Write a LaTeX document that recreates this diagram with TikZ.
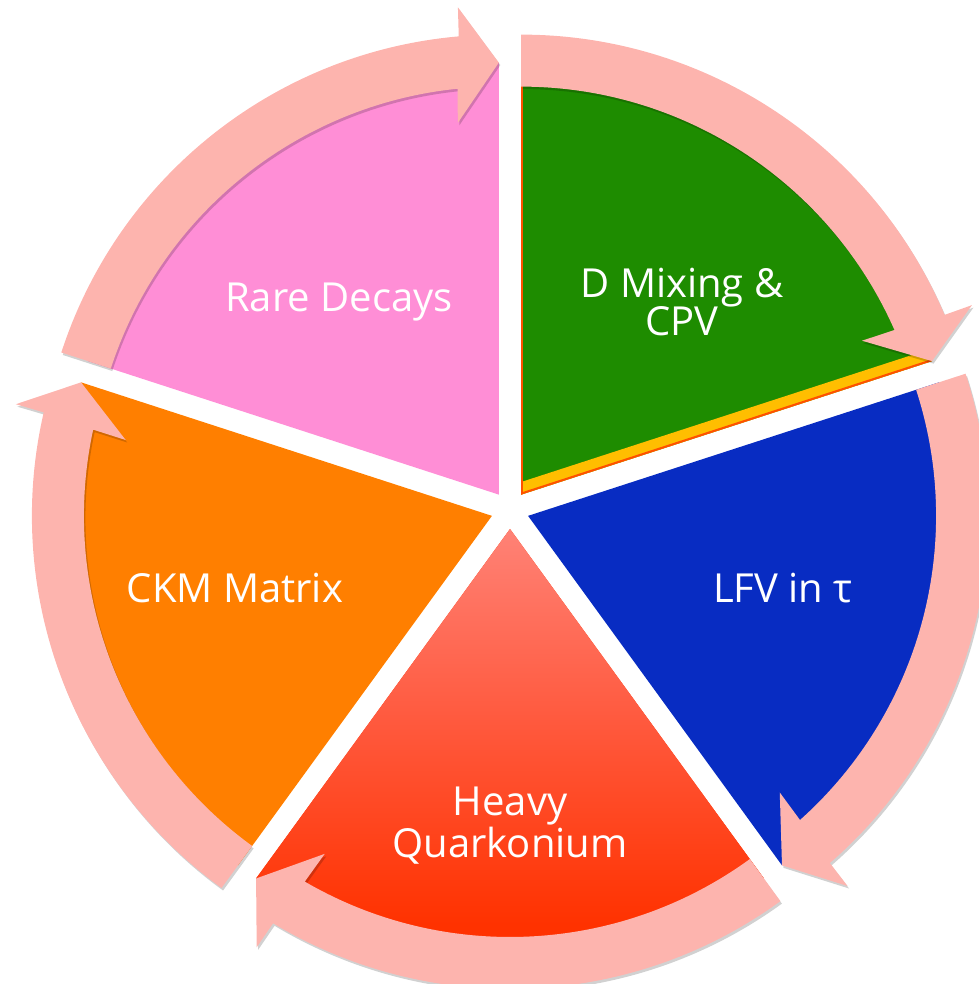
\documentclass[tikz,border=0pt]{standalone}
\usepackage{fontspec}
\setmainfont{Open Sans}
\usetikzlibrary{calc}
\definecolor{pcol}{RGB}{255,142,214}
\definecolor{gcol}{RGB}{30,140,0}
\definecolor{bcol}{RGB}{8,44,194}
\definecolor{ocol}{RGB}{255,127,0}
\definecolor{rtop}{RGB}{255,130,118}
\definecolor{rmid}{RGB}{255,88,60}
\definecolor{rbot}{RGB}{255,50,0}
\definecolor{acol}{RGB}{253,180,174}
\definecolor{rimy}{RGB}{255,190,0}
\definecolor{rimo}{RGB}{255,80,0}
\tikzset{
  lbl/.style={text=white, align=center, font=\fontsize{40}{44}\selectfont, inner sep=0pt},
  arrowband/.style={fill=acol},
  arrowshadow/.style={fill=black, fill opacity=0.18}
}
\begin{document}
\begin{tikzpicture}[x=1pt,y=1pt]
\useasboundingbox (0,0) rectangle (978,984);
\coordinate (C) at (510,474);
% sectors
\foreach \s/\col in {18/gcol,90/pcol,162/ocol,306/bcol}{
  \begin{scope}[shift={($(C)+(\s+36:19pt)$)}]
    \fill[\col] (0,0) -- (\s:432pt) arc[start angle=\s, end angle=\s+72, radius=432pt] -- cycle;
  \end{scope}
}
\begin{scope}[shift={($(C)+(270:19pt)$)}]
  \clip (0,0) -- (234:432pt) arc[start angle=234, end angle=306, radius=432pt] -- cycle;
  \fill[rbot] (-440,-440) rectangle (440,0);
  \shade[top color=rtop, bottom color=rbot, middle color=rmid] (-440,0) rectangle (440,-395);
\end{scope}
% green rim
\begin{scope}[shift={($(C)+(54:19pt)$)}]
  \clip (0,0) -- (18:432pt) arc[start angle=18, end angle=90, radius=432pt] -- cycle;
  \draw[rimy, line width=24pt] (0,0) -- (18:440pt);
  \draw[rimo, line width=4pt] (0,0) -- (18:440pt);
  \draw[rimo, line width=3pt] (0,0) -- (90:440pt);
\end{scope}
% arrow shadows
\foreach \s in {18,90,162,234,306}{
  \begin{scope}[shift={($(C)+(\s+36:19pt)+(1.5pt,-2.5pt)$)}]
    \fill[arrowshadow] (\s+72:460pt) arc[start angle=\s+72, end angle=\s+5, radius=460pt]
      -- (\s+4.8:489pt) -- (\s:432pt) -- (\s+6.3:374pt) -- (\s+5.8:408pt)
      arc[start angle=\s+5.8, end angle=\s+72, radius=408pt] -- cycle;
  \end{scope}
}
% arrows
\foreach \s in {18,90,162,234,306}{
  \begin{scope}[shift={($(C)+(\s+36:19pt)$)}]
    \fill[arrowband] (\s+72:460pt) arc[start angle=\s+72, end angle=\s+5, radius=460pt]
      -- (\s+4.8:489pt) -- (\s:432pt) -- (\s+6.3:374pt) -- (\s+5.8:408pt)
      arc[start angle=\s+5.8, end angle=\s+72, radius=408pt] -- cycle;
  \end{scope}
}
% labels
\node[lbl] (rare) at (339,682) {Rare Decays};
\node[lbl] (dmix) at (682,682) {D Mixing \&\\[-6pt] CPV};
\node[lbl] (lfv) at (783,396) {LFV in τ};
\node[lbl] (ckm) at (235,396) {CKM Matrix};
\node[lbl] (hq) at (510,158) {Heavy\\[-2pt] Quarkonium};
\end{tikzpicture}
\end{document}
